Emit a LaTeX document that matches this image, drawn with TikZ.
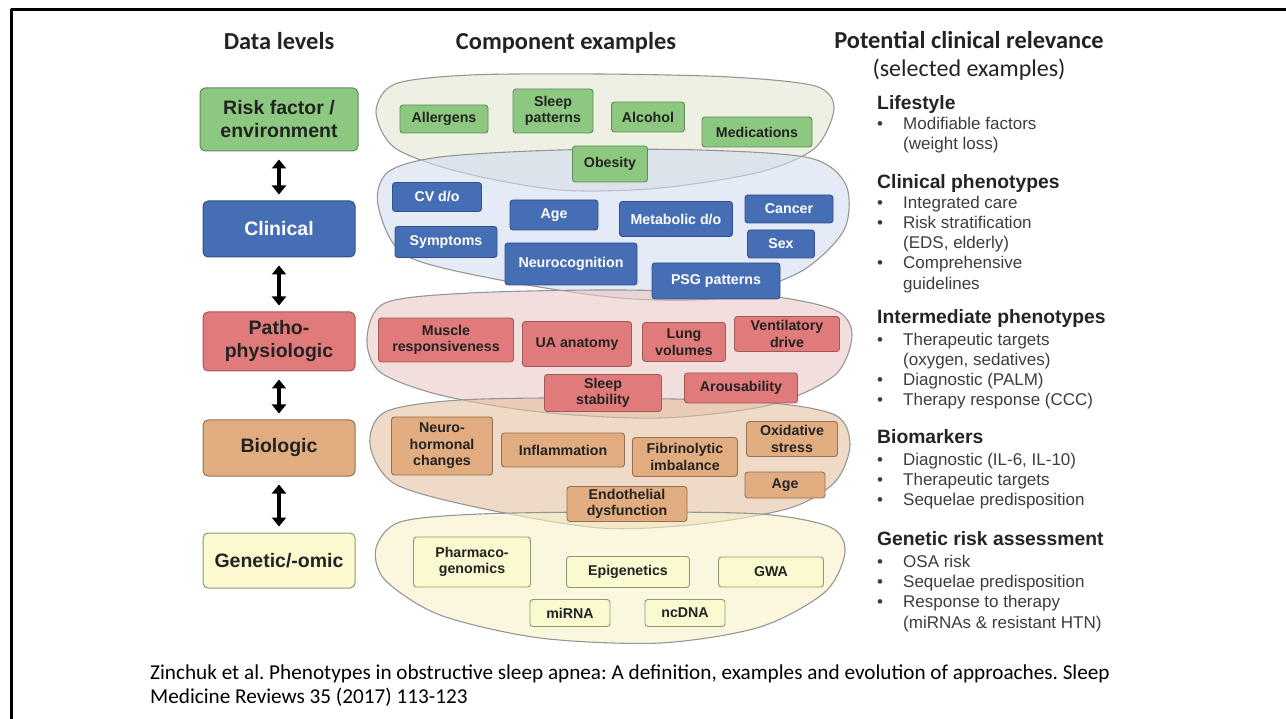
\documentclass[tikz,border=0pt]{standalone}
\usepackage{fontspec}
\setmainfont{Liberation Sans}
\newfontfamily\calib{Carlito}
\usetikzlibrary{arrows.meta}
\frenchspacing

\definecolor{envc}{RGB}{141,200,128}
\definecolor{envd}{RGB}{95,140,90}
\definecolor{clinc}{RGB}{70,110,180}
\definecolor{clind}{RGB}{50,80,140}
\definecolor{patc}{RGB}{225,122,122}
\definecolor{patd}{RGB}{160,90,90}
\definecolor{bioc}{RGB}{225,172,128}
\definecolor{biod}{RGB}{150,112,82}
\definecolor{genc}{RGB}{250,249,208}
\definecolor{gend}{RGB}{150,150,110}
\definecolor{envblob}{RGB}{227,230,210}
\definecolor{clinblob}{RGB}{210,220,240}
\definecolor{patblob}{RGB}{233,200,197}
\definecolor{bioblob}{RGB}{227,193,160}
\definecolor{genblob}{RGB}{247,242,200}
\definecolor{outl}{RGB}{150,150,150}
\definecolor{ink}{RGB}{35,35,35}
\definecolor{graytext}{RGB}{60,60,60}

\newcommand{\bul}{\makebox[26pt][l]{•}}

\begin{document}
\begin{tikzpicture}[x=1pt, y=-1pt, line join=round,
	>={Triangle[width=14pt,length=9pt]},
	blob/.style={draw=outl, line width=1.1pt, fill opacity=0.6},
	level/.style={draw, rounded corners=5pt, line width=1pt, minimum width=152pt, align=center, text=ink, font=\fontsize{19.5}{23}\selectfont\bfseries},
	comp/.style 2 args={draw, rounded corners=3pt, line width=0.9pt, inner sep=1pt, align=center, text=ink, minimum width=#1pt, minimum height=#2pt, font=\fontsize{14.2}{16.5}\selectfont\bfseries},
	env/.style={fill=envc, draw=envd},
	clin/.style={fill=clinc, draw=clind, text=white},
	pat/.style={fill=patc, draw=patd},
	bio/.style={fill=bioc, draw=biod},
	gen/.style={fill=genc, draw=gend},
	title/.style={anchor=base, inner sep=0pt, text=ink, font=\calib\bfseries\fontsize{24.4}{28}\selectfont},
	head/.style={anchor=base west, inner sep=0pt, text=ink, font=\fontsize{19.3}{22}\selectfont\bfseries},
	item/.style={anchor=base west, inner sep=0pt, text=graytext, font=\fontsize{17}{20}\selectfont},
	cite/.style={anchor=base west, inner sep=0pt, text=black, font=\calib\fontsize{21.2}{24}\selectfont}]
	\useasboundingbox (0,0) rectangle (1286,719);
	% frame
	\draw[line width=3pt] (11.5,719) -- (11.5,10) -- (1286,10);
	% titles
	\node[title] (tlev) at (279,50) {Data levels};
	\node[title] (tcomp) at (566,50) {Component examples};
	\node[title] (trel) at (969,49) {Potential clinical relevance};
	\node[title, font=\calib\fontsize{24}{28}\selectfont] (tsel) at (969,77) {(selected examples)};
	% data levels
	\node[level, env, minimum width=158pt, minimum height=63pt] (risk) at (279,119.5) {Risk factor /\\environment};
	\node[level, clin, minimum height=56pt] (clinical) at (279,229) {Clinical};
	\node[level, pat, minimum height=59pt] (patho) at (279,341.5) {Patho-\\physiologic};
	\node[level, bio, minimum height=56pt] (biologic) at (279,448) {Biologic};
	\node[level, gen, minimum height=55pt] (genetic) at (279,560.5) {Genetic/-omic};
	\draw[<->, line width=4.5pt, shorten <=8pt, shorten >=6pt] (risk) -- (clinical);
	\draw[<->, line width=4.5pt, shorten <=8pt, shorten >=6pt] (clinical) -- (patho);
	\draw[<->, line width=4.5pt, shorten <=8pt, shorten >=6pt] (patho) -- (biologic);
	\draw[<->, line width=4.5pt, shorten <=8pt, shorten >=6pt] (biologic) -- (genetic);
	% blobs
	\draw[blob, fill=envblob] plot[smooth cycle] coordinates {(376,112) (395,84) (470,75) (600,74) (730,77) (815,86) (834,108) (815,148) (760,172) (660,188) (560,190) (460,172) (395,148)};
	\draw[blob, fill=clinblob] plot[smooth cycle] coordinates {(378,205) (388,172) (440,157) (560,150) (700,150) (810,158) (846,185) (844,230) (800,272) (720,298) (620,298) (500,280) (405,255)};
	\draw[blob, fill=patblob] plot[smooth cycle] coordinates {(367,338) (385,303) (470,293) (620,290) (760,295) (835,310) (852,335) (835,375) (770,405) (660,418) (540,412) (440,395) (380,372)};
	\draw[blob, fill=bioblob] plot[smooth cycle] coordinates {(370,445) (385,412) (460,400) (600,398) (760,402) (835,415) (850,445) (835,482) (790,508) (700,524) (600,528) (480,508) (395,484)};
	\draw[blob, fill=genblob] plot[smooth cycle] coordinates {(376,548) (400,522) (480,514) (620,512) (760,514) (830,527) (845,552) (825,592) (760,627) (660,643) (540,638) (440,615) (385,580)};
	% risk factor components
	\node[comp={88}{28}, env] (allerg) at (444,119) {Allergens};
	\node[comp={80}{44}, env] (sleeppat) at (553,111) {Sleep\\patterns};
	\node[comp={73}{30}, env] (alcohol) at (648,117) {Alcohol};
	\node[comp={110}{30}, env] (medic) at (757,132) {Medications};
	\node[comp={75}{36}, env] (obesity) at (610,164) {Obesity};
	% clinical components
	\node[comp={89}{29}, clin] (cvdo) at (437,197) {CV d/o};
	\node[comp={88}{30}, clin] (ageclin) at (554,215) {Age};
	\node[comp={113}{35}, clin] (metab) at (676,219) {Metabolic d/o};
	\node[comp={88}{28}, clin] (cancer) at (789,209) {Cancer};
	\node[comp={102}{31}, clin] (sympt) at (446,242) {Symptoms};
	\node[comp={132}{42}, clin] (neurocog) at (571,264) {Neurocognition};
	\node[comp={67}{28}, clin] (sex) at (781,244) {Sex};
	\node[comp={128}{36}, clin] (psg) at (716,281) {PSG patterns};
	% pathophysiologic components
	\node[comp={135}{44}, pat] (muscle) at (446,340) {Muscle\\responsiveness};
	\node[comp={109}{45}, pat] (uaanat) at (577,344) {UA anatomy};
	\node[comp={83}{39}, pat] (lungvol) at (684,342) {Lung\\volumes};
	\node[comp={105}{35}, pat] (ventdr) at (787,334) {Ventilatory\\drive};
	\node[comp={117}{37}, pat] (sleepstab) at (603,393) {Sleep\\stability};
	\node[comp={113}{30}, pat] (arous) at (741,388) {Arousability};
	% biologic components
	\node[comp={101}{58}, bio] (neurohorm) at (442,446) {Neuro-\\hormonal\\changes};
	\node[comp={123}{34}, bio] (inflam) at (563,450) {Inflammation};
	\node[comp={105}{39}, bio] (fibrin) at (685,457) {Fibrinolytic\\imbalance};
	\node[comp={91}{35}, bio] (oxid) at (792,439) {Oxidative\\stress};
	\node[comp={80}{26}, bio] (agebio) at (785,485) {Age};
	\node[comp={120}{35}, bio] (endoth) at (627,504) {Endothelial\\dysfunction};
	% genetic components
	\node[comp={117}{50}, gen] (pharma) at (472,562) {Pharmaco-\\genomics};
	\node[comp={123}{31}, gen] (epigen) at (628,572) {Epigenetics};
	\node[comp={105}{30}, gen] (gwa) at (771,572) {GWA};
	\node[comp={80}{27}, gen] (mirna) at (570,613) {miRNA};
	\node[comp={80}{27}, gen] (ncdna) at (685,613) {ncDNA};
	% clinical relevance
	\node[head] (hlife) at (877,109.5) {Lifestyle};
	\node[item] (lf1) at (877,130) {\bul Modifiable factors};
	\node[item] (lf1b) at (903,150) {(weight loss)};
	\node[head] (hclin) at (877,188.5) {Clinical phenotypes};
	\node[item] (cl1) at (877,209) {\bul Integrated care};
	\node[item] (cl2) at (877,229) {\bul Risk stratification};
	\node[item] (cl2b) at (903,249) {(EDS, elderly)};
	\node[item] (cl3) at (877,269) {\bul Comprehensive};
	\node[item] (cl3b) at (903,290) {guidelines};
	\node[head] (hint) at (877,323.5) {Intermediate phenotypes};
	\node[item] (in1) at (877,346) {\bul Therapeutic targets};
	\node[item] (in1b) at (903,366) {(oxygen, sedatives)};
	\node[item] (in2) at (877,386) {\bul Diagnostic (PALM)};
	\node[item] (in3) at (877,406) {\bul Therapy response (CCC)};
	\node[head] (hbio) at (877,443.5) {Biomarkers};
	\node[item] (bm1) at (877,465) {\bul Diagnostic (IL-6, IL-10)};
	\node[item] (bm2) at (877,485) {\bul Therapeutic targets};
	\node[item] (bm3) at (877,505) {\bul Sequelae predisposition};
	\node[head] (hgen) at (877,545.5) {Genetic risk assessment};
	\node[item] (gr1) at (877,567) {\bul OSA risk};
	\node[item] (gr2) at (877,587) {\bul Sequelae predisposition};
	\node[item] (gr3) at (877,607) {\bul Response to therapy};
	\node[item] (gr3b) at (903,628) {(miRNAs \& resistant HTN)};
	% reference
	\node[cite] (ref1) at (150,679) {Zinchuk et al. Phenotypes in obstructive sleep apnea: A definition, examples and evolution of approaches. Sleep};
	\node[cite] (ref2) at (150,703) {Medicine Reviews 35 (2017) 113-123};
\end{tikzpicture}
\end{document}
